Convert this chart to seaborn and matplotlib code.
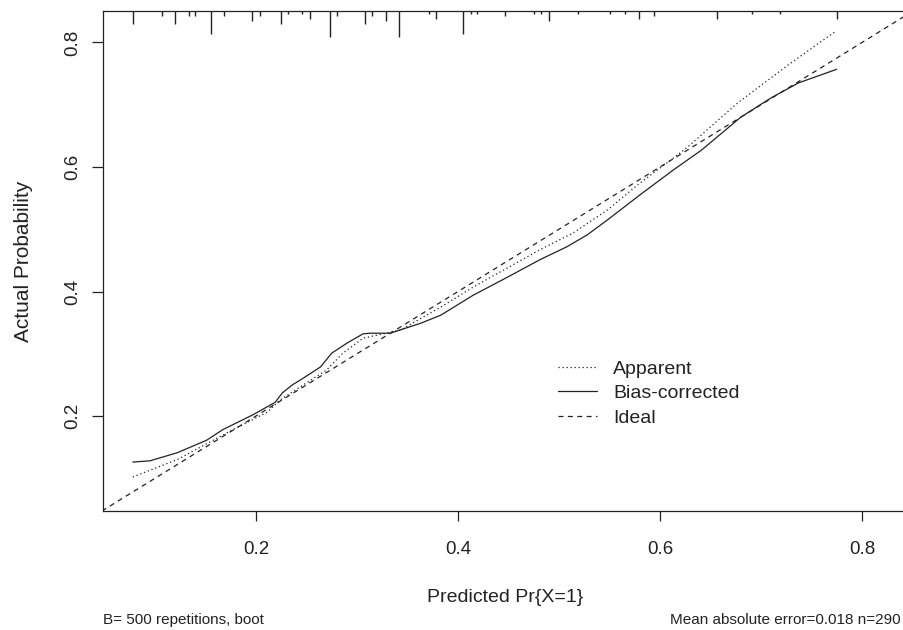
"""Калибровочная кривая (bootstrap): apparent, bias-corrected и идеальная линия."""

import matplotlib
matplotlib.use("Agg")
import matplotlib.pyplot as plt
import pandas as pd
import seaborn as sns

# Прогнозы на оси и частоты для rug сверху.
rug_pred = [0.078, 0.107, 0.120, 0.134, 0.140, 0.155, 0.168, 0.196, 0.204,
            0.225, 0.232, 0.246, 0.253, 0.273, 0.280, 0.308, 0.315, 0.329,
            0.342, 0.371, 0.378, 0.405, 0.413, 0.419, 0.447, 0.475, 0.482,
            0.490, 0.519, 0.551, 0.565, 0.579, 0.594, 0.656, 0.691, 0.719,
            0.775]
rug_count = [5, 2, 5, 2, 2, 9, 2, 4, 2, 5, 1, 1, 3, 10, 2, 5, 2, 4, 10, 1, 3,
             9, 1, 1, 2, 1, 1, 4, 1, 1, 1, 3, 2, 3, 1, 1, 3]

apparent_x = [0.078, 0.122, 0.177, 0.211, 0.224, 0.244, 0.270, 0.286, 0.306,
              0.326, 0.343, 0.383, 0.415, 0.449, 0.481, 0.514, 0.548, 0.580,
              0.613, 0.628, 0.677, 0.727, 0.773]
apparent_y = [0.102, 0.130, 0.178, 0.206, 0.226, 0.247, 0.274, 0.301, 0.325,
              0.332, 0.338, 0.375, 0.407, 0.438, 0.467, 0.494, 0.531, 0.574,
              0.614, 0.633, 0.703, 0.764, 0.817]

bias_x = [0.078, 0.095, 0.122, 0.151, 0.167, 0.197, 0.219, 0.226, 0.236, 0.247,
          0.264, 0.275, 0.290, 0.306, 0.313, 0.333, 0.346, 0.363, 0.383, 0.415,
          0.449, 0.481, 0.508, 0.528, 0.548, 0.580, 0.613, 0.641, 0.680, 0.710,
          0.737, 0.775]
bias_y = [0.126, 0.128, 0.141, 0.161, 0.178, 0.202, 0.222, 0.237, 0.250, 0.261,
          0.279, 0.301, 0.317, 0.332, 0.333, 0.333, 0.340, 0.349, 0.362, 0.394,
          0.423, 0.451, 0.472, 0.491, 0.515, 0.555, 0.595, 0.627, 0.680, 0.711,
          0.735, 0.757]

ideal_x = [0.0, 1.0]
ideal_y = [0.0, 1.0]

x_ticks = [0.2, 0.4, 0.6, 0.8]
y_ticks = [0.2, 0.4, 0.6, 0.8]

INK = "#222222"

sns.set_style("ticks")
plt.rcParams["font.family"] = ["Liberation Sans", "DejaVu Sans"]
plt.rcParams["text.color"] = INK
plt.rcParams["axes.labelcolor"] = INK
plt.rcParams["xtick.color"] = INK
plt.rcParams["ytick.color"] = INK

fig = plt.figure(figsize=(9.04, 6.3), dpi=100)
ax = fig.add_axes([103 / 904, 119 / 630, 804 / 904, 500 / 630])

line_kw = dict(color=INK, linewidth=0.9, ax=ax, sort=False)
sns.lineplot(x=apparent_x, y=apparent_y, linestyle=(0, (1, 2.2)),
             label="Apparent", **line_kw)
sns.lineplot(x=bias_x, y=bias_y, linestyle="-", label="Bias-corrected", **line_kw)
sns.lineplot(x=ideal_x, y=ideal_y, linestyle=(0, (4, 3.5)), label="Ideal", **line_kw)

# Rug сверху: длина штриха пропорциональна частоте.
rug = pd.DataFrame({"p": rug_pred, "n": rug_count})
ax.vlines(rug["p"], 1 - rug["n"] * 0.0052, 1, transform=ax.get_xaxis_transform(),
          color=INK, linewidth=1.0, clip_on=False)

ax.set_xlim(0.0485, 0.8446)
ax.set_ylim(0.0474, 0.8506)
ax.set_xticks(x_ticks)
ax.set_yticks(y_ticks)
ax.set_xticklabels([f"{v:.1f}" for v in x_ticks])
ax.set_yticklabels([f"{v:.1f}" for v in y_ticks], rotation=90, va="center")
ax.tick_params(axis="x", length=7.2, width=0.9, pad=14.5, labelsize=13.5)
ax.tick_params(axis="y", length=8, width=0.9, pad=8, labelsize=13.5)

for side in ["left", "bottom", "top"]:
    ax.spines[side].set_color(INK)
    ax.spines[side].set_linewidth(0.9)
ax.spines["right"].set_visible(False)

ax.set_xlabel("Predicted Pr{X=1}", fontsize=14, labelpad=22)
ax.set_ylabel("Actual Probability", fontsize=15, labelpad=22)

ax.legend(loc="upper left", bbox_to_anchor=(558 / 904, 1 - 360 / 630),
          bbox_transform=fig.transFigure, frameon=False, fontsize=14,
          handlelength=2.0, handletextpad=0.85, labelspacing=0.36,
          borderpad=0, borderaxespad=0)

fig.text(103 / 904, 1 - 620 / 630, "B= 500 repetitions, boot", fontsize=11,
         ha="left", va="center")
fig.text(901 / 904, 1 - 620 / 630, "Mean absolute error=0.018 n=290", fontsize=11,
         ha="right", va="center")

fig.savefig("out.png", dpi=100, facecolor="white")
